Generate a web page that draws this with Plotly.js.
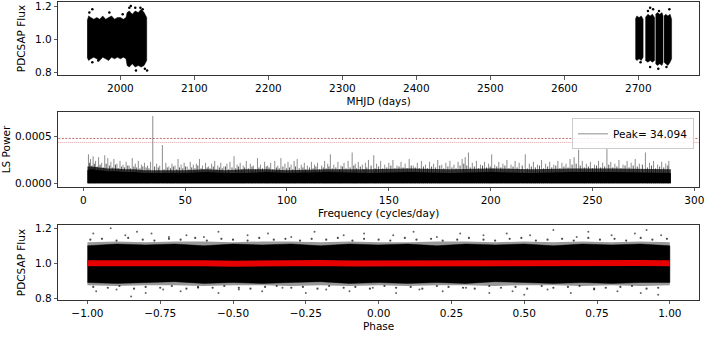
<!DOCTYPE html>
<html>
<head>
<meta charset="utf-8">
<script src="https://cdn.plot.ly/plotly-3.0.1.min.js"></script>
<style>
body { margin: 0; background: white; }
#graficPlotly { width: 718px; height: 343px; }
</style>
</head>
<body>
<div id="graficPlotly"></div>
<script>
// LIGHT CURVE: envelope of the dense point cloud, one chunk per observing block
var lcTime1 = [1955, 1957, 1960, 1964, 1968, 1972, 1976, 1980, 1984, 1988, 1992, 1996, 2000, 2004, 2007.5, 2009, 2012, 2016, 2020, 2024, 2028, 2032, 2035.5];
var lcHigh1 = [1.11, 1.14, 1.13, 1.12, 1.13, 1.12, 1.14, 1.12, 1.13, 1.14, 1.12, 1.13, 1.13, 1.12, 1.13, 1.16, 1.17, 1.15, 1.17, 1.16, 1.18, 1.16, 1.13];
var lcLow1  = [0.89, 0.87, 0.88, 0.89, 0.88, 0.87, 0.89, 0.88, 0.87, 0.89, 0.88, 0.89, 0.88, 0.89, 0.88, 0.84, 0.83, 0.85, 0.83, 0.84, 0.83, 0.84, 0.87];

var lcTime2 = [2696, 2698, 2701, 2704, 2706.5];
var lcHigh2 = [1.12, 1.14, 1.13, 1.14, 1.12];
var lcLow2  = [0.88, 0.87, 0.88, 0.87, 0.89];

var lcTime3 = [2709.5, 2713, 2716, 2719, 2722];
var lcHigh3 = [1.13, 1.15, 1.14, 1.15, 1.13];
var lcLow3  = [0.87, 0.86, 0.87, 0.86, 0.87];

var lcTime4 = [2723.3, 2726, 2729, 2732, 2733.5];
var lcHigh4 = [1.15, 1.16, 1.15, 1.16, 1.14];
var lcLow4  = [0.85, 0.84, 0.85, 0.84, 0.86];

var lcTime5 = [2734.8, 2737, 2740, 2743, 2745];
var lcHigh5 = [1.14, 1.15, 1.14, 1.15, 1.12];
var lcLow5  = [0.86, 0.85, 0.84, 0.86, 0.88];

// stray points outside the envelope
var lcOutT = [1958, 1962, 1985, 2003, 2012, 2014, 2020, 2027, 2030, 2036, 1962, 1970, 2021, 2033, 2713, 2716, 2720, 2728, 2742, 2703, 2716, 2727, 2738];
var lcOutF = [1.16, 1.18, 1.16, 1.15, 1.19, 1.20, 1.19, 1.19, 1.18, 0.81, 0.86, 0.87, 0.81, 0.82, 1.17, 1.19, 1.18, 1.17, 1.18, 0.86, 0.83, 0.82, 0.83];

// LOMB-SCARGLE: dense floor of the periodogram and the individual spikes above it
var pgFreq   = [2, 4, 8, 12, 16, 20, 25, 30, 40, 50, 60, 70, 80, 90, 100, 120, 140, 160, 180, 200, 220, 240, 260, 280, 288.5];
var pgCore   = [0.00014, 0.00015, 0.00014, 0.00013, 0.00013, 0.00012, 0.00012, 0.00011, 0.00011, 0.00011, 0.00012, 0.00011, 0.00011, 0.00012, 0.00011, 0.00012, 0.00011, 0.00012, 0.00011, 0.00012, 0.00011, 0.00012, 0.00012, 0.00011, 0.00011];
var pgFringe = [0.00018, 0.00018, 0.00017, 0.00016, 0.00016, 0.00015, 0.00015, 0.00014, 0.00014, 0.00014, 0.00015, 0.00014, 0.00015, 0.00015, 0.00014, 0.00015, 0.00015, 0.00016, 0.00015, 0.00016, 0.00015, 0.00016, 0.00016, 0.00015, 0.00015];

var spikeFreq = [2.5, 3.5, 4.8, 6, 7.5, 9, 10.5, 12, 13.5, 15, 16.5, 18, 19.5, 21, 22.5, 24, 25.5, 27, 28.5, 30, 31.5, 33, 34.094, 36, 37.5, 38.8, 40.5, 42, 43.5, 45, 46.5, 48, 49.5, 51, 52.5, 54, 55.5, 57, 58.5, 60, 61.5, 63, 64.5, 66, 67.5, 69, 70.5, 72, 74, 75.5, 77, 78.5, 80, 82, 83.5, 85.5, 87, 89, 90.5, 92, 94, 95.5, 97, 99, 100.5, 102, 103.5, 105, 107, 108.5, 110, 112, 113.5, 115, 117, 118.5, 120, 121.3, 123, 125, 126.5, 128, 130, 132, 133.5, 135, 137, 138.5, 140, 142.6, 144, 146, 148, 150, 152, 154, 156, 158, 160, 162, 164, 166, 168, 170, 172, 174, 176, 178, 180, 182, 184, 186, 187.5, 189.1, 191, 193, 195, 197, 199, 200.5, 202, 204, 206, 208, 210, 212, 214, 217, 219, 221, 223, 225, 227, 229, 231, 233, 235, 237, 239, 241, 243.2, 245, 247, 249, 251, 253, 255, 257.1, 259, 261, 263, 265, 267, 269, 271, 273, 276, 278, 280, 282, 284, 286, 287.5];
var spikePow  = [0.00031, 0.00026, 0.00029, 0.00024, 0.00028, 0.00022, 0.00030, 0.00027, 0.00023, 0.00026, 0.00021, 0.00024, 0.00020, 0.00023, 0.00019, 0.00027, 0.00021, 0.00024, 0.00020, 0.00022, 0.00019, 0.00023, 0.00072, 0.00021, 0.00019, 0.00041, 0.00022, 0.00018, 0.00021, 0.00019, 0.00026, 0.00020, 0.00022, 0.00018, 0.00023, 0.00020, 0.00021, 0.00026, 0.00019, 0.00022, 0.00018, 0.00021, 0.00024, 0.00019, 0.00022, 0.00018, 0.00021, 0.00023, 0.00029, 0.00020, 0.00022, 0.00019, 0.00024, 0.00021, 0.00019, 0.00027, 0.00020, 0.00023, 0.00019, 0.00022, 0.00024, 0.00019, 0.00027, 0.00021, 0.00023, 0.00020, 0.00024, 0.00026, 0.00020, 0.00022, 0.00019, 0.00023, 0.00020, 0.00022, 0.00019, 0.00024, 0.00021, 0.00031, 0.00020, 0.00023, 0.00019, 0.00022, 0.00024, 0.00033, 0.00021, 0.00023, 0.00020, 0.00022, 0.00025, 0.00030, 0.00021, 0.00024, 0.00020, 0.00022, 0.00025, 0.00019, 0.00023, 0.00021, 0.00026, 0.00019, 0.00022, 0.00024, 0.00020, 0.00023, 0.00021, 0.00025, 0.00020, 0.00022, 0.00024, 0.00020, 0.00023, 0.00026, 0.00028, 0.00033, 0.00022, 0.00024, 0.00020, 0.00023, 0.00021, 0.00031, 0.00020, 0.00023, 0.00021, 0.00025, 0.00020, 0.00024, 0.00022, 0.00031, 0.00021, 0.00023, 0.00020, 0.00025, 0.00021, 0.00023, 0.00020, 0.00024, 0.00022, 0.00021, 0.00026, 0.00028, 0.00036, 0.00024, 0.00021, 0.00023, 0.00020, 0.00024, 0.00022, 0.00037, 0.00023, 0.00021, 0.00025, 0.00020, 0.00024, 0.00022, 0.00026, 0.00021, 0.00033, 0.00022, 0.00024, 0.00020, 0.00023, 0.00021, 0.00024];

// lower spikes in between
var spikeFreq2 = [3, 4.2, 5.4, 6.8, 8.2, 9.8, 11.2, 12.8, 14.2, 15.8,
                  17.2, 18.8, 20.2, 21.8, 23.2, 24.8, 26.2, 27.8, 29.2, 30.8,
                  32.2, 35, 36.8, 39.6, 41.2, 42.8, 44.2, 45.8, 47.2, 48.8,
                  50.2, 51.8, 53.2, 54.8, 56.2, 57.8, 59.2, 60.8, 62.2, 63.8,
                  65.2, 66.8, 68.2, 69.8, 71.2, 73, 74.8, 76.2, 77.8, 79.2,
                  81, 82.8, 84.5, 86.2, 88, 89.8, 91.2, 93, 94.8, 96.2,
                  98, 99.8, 101.2, 102.8, 104.2, 106, 107.8, 109.2, 111, 112.8,
                  114.2, 116, 117.8, 119.2, 120.6, 122.2, 124, 125.8, 127.2, 129,
                  131, 132.8, 134.2, 136, 137.8, 139.2, 141.3, 143.3, 145, 147,
                  149, 151, 153, 155, 157, 159, 161, 163, 165, 167,
                  169, 171, 173, 175, 177, 179, 181, 183, 185, 186.8,
                  188.3, 190, 192, 194, 196, 198, 199.8, 201.2, 203, 205,
                  207, 209, 211, 213, 215.5, 218, 220, 222, 224, 226,
                  228, 230, 232, 234, 236, 238, 240, 242, 244, 246,
                  248, 250, 252, 254, 256, 258, 260, 262, 264, 266,
                  268, 270, 272, 274.5, 277, 279, 281, 283, 285, 287];
var spikePow2 = [0.00022, 0.00019, 0.00021, 0.00018, 0.00020, 0.00017, 0.00021, 0.00019, 0.00017, 0.00020,
                 0.00016, 0.00018, 0.00017, 0.00019, 0.00016, 0.00018, 0.00017, 0.00016, 0.00018, 0.00017,
                 0.00016, 0.00018, 0.00017, 0.00015, 0.00017, 0.00016, 0.00018, 0.00015, 0.00017, 0.00016,
                 0.00018, 0.00015, 0.00017, 0.00016, 0.00019, 0.00016, 0.00015, 0.00017, 0.00016, 0.00018,
                 0.00015, 0.00017, 0.00016, 0.00018, 0.00015, 0.00017, 0.00016, 0.00018, 0.00015, 0.00017,
                 0.00016, 0.00018, 0.00015, 0.00017, 0.00016, 0.00018, 0.00017, 0.00015, 0.00017, 0.00016,
                 0.00018, 0.00016, 0.00017, 0.00015, 0.00018, 0.00016, 0.00017, 0.00015, 0.00017, 0.00016,
                 0.00018, 0.00015, 0.00017, 0.00016, 0.00018, 0.00016, 0.00017, 0.00015, 0.00018, 0.00016,
                 0.00017, 0.00019, 0.00016, 0.00018, 0.00015, 0.00017, 0.00019, 0.00016, 0.00018, 0.00016,
                 0.00017, 0.00019, 0.00016, 0.00018, 0.00017, 0.00016, 0.00019, 0.00017, 0.00016, 0.00018,
                 0.00016, 0.00018, 0.00017, 0.00019, 0.00016, 0.00018, 0.00017, 0.00016, 0.00019, 0.00021,
                 0.00019, 0.00017, 0.00018, 0.00016, 0.00019, 0.00017, 0.00018, 0.00016, 0.00018, 0.00017,
                 0.00019, 0.00016, 0.00018, 0.00017, 0.00019, 0.00016, 0.00018, 0.00017, 0.00019, 0.00016,
                 0.00018, 0.00017, 0.00019, 0.00016, 0.00018, 0.00017, 0.00020, 0.00021, 0.00019, 0.00017,
                 0.00018, 0.00016, 0.00019, 0.00017, 0.00018, 0.00020, 0.00017, 0.00018, 0.00016, 0.00019,
                 0.00017, 0.00019, 0.00018, 0.00020, 0.00017, 0.00019, 0.00016, 0.00018, 0.00017, 0.00019];

// false alarm levels (horizontal red lines)
var faLevels = [0.00048, 0.000437];
var peakLabel = 'Peak= 34.094';

// PHASE FOLDED CURVE
var phGrid  = [-1.0, -0.9, -0.8, -0.7, -0.6, -0.5, -0.4, -0.3, -0.2, -0.1, 0.0, 0.1, 0.2, 0.3, 0.4, 0.5, 0.6, 0.7, 0.8, 0.9, 1.0];
var phHigh  = [1.10, 1.11, 1.105, 1.11, 1.10, 1.11, 1.105, 1.11, 1.10, 1.11, 1.105, 1.11, 1.10, 1.11, 1.105, 1.11, 1.10, 1.11, 1.105, 1.11, 1.10];
var phLow   = [0.89, 0.885, 0.89, 0.895, 0.885, 0.89, 0.885, 0.89, 0.895, 0.885, 0.89, 0.885, 0.89, 0.885, 0.895, 0.89, 0.885, 0.89, 0.885, 0.89, 0.89];
var phHaloHigh = [1.12, 1.125, 1.12, 1.125, 1.125, 1.12, 1.125, 1.125, 1.12, 1.125, 1.12, 1.12, 1.125, 1.125, 1.12, 1.125, 1.12, 1.125, 1.12, 1.125, 1.12];
var phHaloLow  = [0.875, 0.87, 0.875, 0.875, 0.87, 0.875, 0.875, 0.87, 0.875, 0.87, 0.875, 0.87, 0.875, 0.875, 0.87, 0.875, 0.875, 0.87, 0.875, 0.87, 0.875];
var binFlux = [1.000, 1.002, 0.999, 1.001, 1.000, 0.998, 1.001, 1.000, 1.002, 0.999, 1.000, 1.001, 0.999, 1.000, 1.002, 1.001, 0.999, 1.000, 1.002, 1.001, 1.000];

// points just past the dense band
var phEdgeP = [-0.99, -0.95, -0.90, -0.86, -0.81, -0.77, -0.72, -0.68, -0.63, -0.59,
               -0.54, -0.50, -0.45, -0.41, -0.36, -0.32, -0.27, -0.23, -0.18, -0.14,
               -0.09, -0.05, 0.00, 0.04, 0.09, 0.13, 0.18, 0.22, 0.27, 0.31,
               0.36, 0.40, 0.45, 0.49, 0.54, 0.58, 0.63, 0.67, 0.72, 0.76,
               0.81, 0.85, 0.90, 0.94, 0.99,
               -0.98, -0.93, -0.89, -0.84, -0.80, -0.75, -0.71, -0.66, -0.62, -0.57,
               -0.53, -0.48, -0.44, -0.39, -0.35, -0.30, -0.26, -0.21, -0.17, -0.12,
               -0.08, -0.03, 0.02, 0.06, 0.11, 0.15, 0.20, 0.24, 0.29, 0.33,
               0.38, 0.42, 0.47, 0.51, 0.56, 0.60, 0.65, 0.69, 0.74, 0.78,
               0.83, 0.87, 0.92, 0.96];
var phEdgeF = [1.135, 1.14, 1.13, 1.145, 1.135, 1.13, 1.14, 1.135, 1.145, 1.13,
               1.14, 1.135, 1.13, 1.145, 1.135, 1.14, 1.13, 1.14, 1.135, 1.145,
               1.13, 1.14, 1.135, 1.13, 1.145, 1.135, 1.14, 1.13, 1.135, 1.145,
               1.135, 1.13, 1.14, 1.145, 1.13, 1.135, 1.14, 1.13, 1.145, 1.135,
               1.14, 1.13, 1.145, 1.135, 1.14,
               0.865, 0.86, 0.87, 0.855, 0.865, 0.86, 0.87, 0.855, 0.865, 0.86,
               0.87, 0.86, 0.855, 0.865, 0.87, 0.86, 0.865, 0.855, 0.87, 0.86,
               0.865, 0.855, 0.87, 0.86, 0.865, 0.855, 0.87, 0.865, 0.86, 0.855,
               0.87, 0.86, 0.865, 0.855, 0.87, 0.86, 0.865, 0.87, 0.855, 0.86,
               0.865, 0.87, 0.855, 0.86];

var phOutP = [-0.98, -0.92, -0.87, -0.83, -0.78, -0.72, -0.66, -0.60, -0.55, -0.45, -0.38, -0.30, -0.22, -0.12, -0.05, 0.05, 0.12, 0.20, 0.28, 0.36, 0.44, 0.52, 0.60, 0.68, 0.72, 0.80, 0.88, 0.92, 0.97,
              -0.97, -0.90, -0.85, -0.80, -0.74, -0.68, -0.62, -0.55, -0.48, -0.40, -0.33, -0.25, -0.18, -0.10, -0.02, 0.06, 0.14, 0.22, 0.30, 0.38, 0.46, 0.50, 0.58, 0.66, 0.74, 0.82, 0.90, 0.96];
var phOutF = [1.17, 1.20, 1.16, 1.18, 1.17, 1.15, 1.16, 1.15, 1.18, 1.16, 1.17, 1.15, 1.18, 1.16, 1.17, 1.16, 1.18, 1.15, 1.17, 1.16, 1.17, 1.16, 1.19, 1.15, 1.18, 1.16, 1.17, 1.19, 1.16,
              0.84, 0.85, 0.81, 0.83, 0.85, 0.84, 0.86, 0.83, 0.85, 0.84, 0.86, 0.83, 0.85, 0.84, 0.86, 0.83, 0.85, 0.84, 0.86, 0.83, 0.84, 0.82, 0.85, 0.83, 0.85, 0.84, 0.83, 0.82];


// builds a closed polygon (upper edge forward, lower edge back)
function poligon(t, alt, baix) {
    var x = t.concat(t.slice().reverse());
    var y = alt.concat(baix.slice().reverse());
    return {x: x, y: y};
}

// joins several polygons in one trace, separated by nulls
function ajunta(llista) {
    var x = [], y = [];
    for (var i = 0; i < llista.length; i++) {
        if (i > 0) { x.push(null); y.push(null); }
        x = x.concat(llista[i].x);
        y = y.concat(llista[i].y);
    }
    return {x: x, y: y};
}

// vertical sticks from zero for the periodogram spikes
function pals(f, p) {
    var x = [], y = [];
    for (var i = 0; i < f.length; i++) {
        x.push(f[i], f[i], null);
        y.push(0, p[i], null);
    }
    return {x: x, y: y};
}

function fesGrafic() {
    var FONT = {family: 'DejaVu Sans, sans-serif', size: 10.5, color: '#000'};
    var EIX = '#333';

    var lc = ajunta([
        poligon(lcTime1, lcHigh1, lcLow1),
        poligon(lcTime2, lcHigh2, lcLow2),
        poligon(lcTime3, lcHigh3, lcLow3),
        poligon(lcTime4, lcHigh4, lcLow4),
        poligon(lcTime5, lcHigh5, lcLow5)
    ]);
    var lcCloud = {x: lc.x, y: lc.y, xaxis: 'x', yaxis: 'y', type: 'scatter', mode: 'lines',
        fill: 'toself', fillcolor: '#000', line: {color: '#000', width: 0.5}, showlegend: false};
    var lcStray = {x: lcOutT, y: lcOutF, xaxis: 'x', yaxis: 'y', type: 'scatter', mode: 'markers',
        marker: {color: '#000', size: 2.5}, showlegend: false};

    // periodogram
    var sp2 = pals(spikeFreq2, spikePow2);
    var lowSpikes = {x: sp2.x, y: sp2.y, xaxis: 'x2', yaxis: 'y2', type: 'scatter', mode: 'lines',
        line: {color: 'rgba(0,0,0,0.65)', width: 1}, showlegend: false};
    var fringe = {x: pgFreq, y: pgFringe, xaxis: 'x2', yaxis: 'y2', type: 'scatter', mode: 'lines',
        fill: 'tozeroy', fillcolor: 'rgba(0,0,0,0.75)', line: {width: 0}, showlegend: false};
    var core = {x: pgFreq, y: pgCore, xaxis: 'x2', yaxis: 'y2', type: 'scatter', mode: 'lines',
        fill: 'tozeroy', fillcolor: '#000', line: {width: 0}, showlegend: false};
    var sp = pals(spikeFreq, spikePow);
    var spikes = {x: sp.x, y: sp.y, xaxis: 'x2', yaxis: 'y2', type: 'scatter', mode: 'lines',
        line: {color: 'rgba(0,0,0,0.5)', width: 0.9}, name: peakLabel, showlegend: true};

    // phase folded
    var halo = poligon(phGrid, phHaloHigh, phHaloLow);
    var phHalo = {x: halo.x, y: halo.y, xaxis: 'x3', yaxis: 'y3', type: 'scatter', mode: 'lines',
        fill: 'toself', fillcolor: 'rgba(0,0,0,0.4)', line: {width: 0}, showlegend: false};
    var band = poligon(phGrid, phHigh, phLow);
    var phBand = {x: band.x, y: band.y, xaxis: 'x3', yaxis: 'y3', type: 'scatter', mode: 'lines',
        fill: 'toself', fillcolor: '#000', line: {color: '#000', width: 0.5}, showlegend: false};
    var phEdge = {x: phEdgeP, y: phEdgeF, xaxis: 'x3', yaxis: 'y3', type: 'scatter', mode: 'markers',
        marker: {color: 'rgba(0,0,0,0.7)', size: 2.2}, showlegend: false};
    var phStray = {x: phOutP, y: phOutF, xaxis: 'x3', yaxis: 'y3', type: 'scatter', mode: 'markers',
        marker: {color: 'rgba(0,0,0,0.6)', size: 2}, showlegend: false};
    var binned = {x: phGrid, y: binFlux, xaxis: 'x3', yaxis: 'y3', type: 'scatter', mode: 'lines',
        line: {color: '#e60000', width: 6}, showlegend: false};

    function eix(extra) {
        var base = {showgrid: false, zeroline: false, showline: true, mirror: true, linecolor: EIX, linewidth: 1,
            ticks: 'outside', ticklen: 3.5, tickwidth: 0.8, tickcolor: EIX, tickfont: FONT, ticklabeloverflow: 'allow'};
        for (var k in extra) base[k] = extra[k];
        return base;
    }

    var shapes = [];
    var estils = [{color: 'rgba(160,40,40,0.85)', width: 0.8, dash: '2px,1.5px'},
                  {color: 'rgba(210,110,110,0.8)', width: 0.8, dash: '1px,1px'}];
    for (var i = 0; i < faLevels.length; i++) {
        shapes.push({type: 'line', xref: 'x2 domain', x0: 0, x1: 1, yref: 'y2', y0: faLevels[i], y1: faLevels[i], line: estils[i]});
    }

    var layout = {
        width: 718, height: 343, margin: {l: 0, r: 0, t: 0, b: 0},
        paper_bgcolor: 'white', plot_bgcolor: 'white', font: FONT,
        showlegend: true,
        legend: {x: 0.9666, xanchor: 'right', y: 0.655, yanchor: 'top', bgcolor: 'rgba(255,255,255,0.85)',
            bordercolor: '#ccc', borderwidth: 1, font: FONT},
        shapes: shapes,
        xaxis: eix({domain: [0.0812, 0.9735], range: [1916, 2782], tick0: 0, dtick: 100, anchor: 'y',
            title: {text: 'MHJD (days)', font: FONT, standoff: 4}}),
        yaxis: eix({domain: [0.7813, 0.994], range: [0.782, 1.224], tick0: 0, dtick: 0.2, tickformat: '.1f', anchor: 'x',
            title: {text: 'PDCSAP Flux', font: FONT, standoff: 7}}),
        xaxis2: eix({domain: [0.0812, 0.9735], range: [-12.3, 302.3], tick0: 0, dtick: 50, anchor: 'y2',
            title: {text: 'Frequency (cycles/day)', font: FONT, standoff: 4}}),
        yaxis2: eix({domain: [0.4557, 0.6726], range: [-0.000036, 0.00076], tick0: 0, dtick: 0.0005, tickformat: '.4f', anchor: 'x2',
            title: {text: 'LS Power', font: FONT, standoff: 7}}),
        xaxis3: eix({domain: [0.0812, 0.9735], range: [-1.1, 1.1], tick0: 0, dtick: 0.25, tickformat: '.2f', anchor: 'y3',
            title: {text: 'Phase', font: FONT, standoff: 4}}),
        yaxis3: eix({domain: [0.1254, 0.344], range: [0.79, 1.219], tick0: 0, dtick: 0.2, tickformat: '.1f', anchor: 'x3',
            title: {text: 'PDCSAP Flux', font: FONT, standoff: 7}})
    };

    Plotly.newPlot('graficPlotly',
        [lcCloud, lcStray, fringe, lowSpikes, core, spikes, phHalo, phBand, phEdge, phStray, binned],
        layout, {staticPlot: true, displayModeBar: false});
}

fesGrafic();
</script>
</body>
</html>
